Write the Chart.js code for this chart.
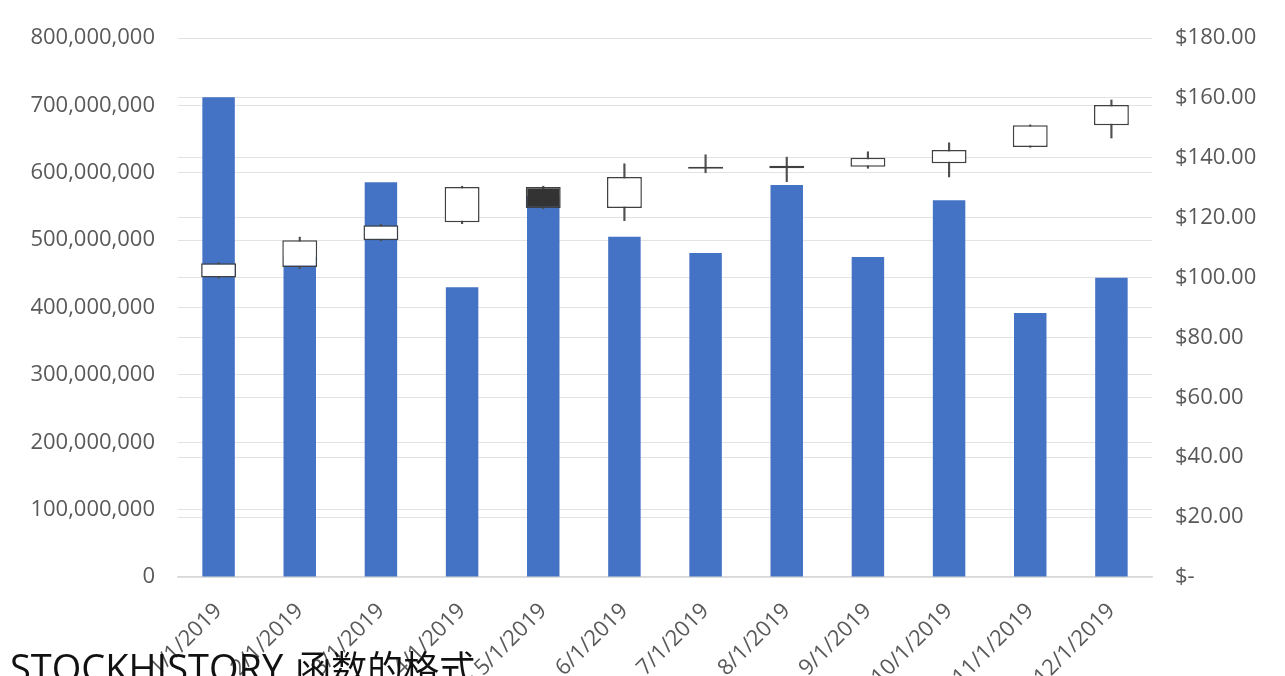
<!DOCTYPE html>
<html>
<head>
<meta charset="utf-8">
<script src="https://cdn.jsdelivr.net/npm/chart.js@4.4.1/dist/chart.umd.min.js"></script>
<style>
  html, body { margin: 0; padding: 0; background: #fff; overflow: hidden; }
  #wrap { position: absolute; left: 0; top: 0; width: 1285px; height: 760px; }
  #caption {
    position: absolute; left: 10px; top: 647px; z-index: 2;
    line-height: 38px; color: #111; white-space: nowrap;
  }
  #caption .lat { font-family: "Open Sans", sans-serif; font-size: 38px; }
  #caption .cjk { font-family: "Noto Sans CJK SC", sans-serif; font-size: 36px; margin-left: 12px; }
</style>
</head>
<body>
<div id="wrap"><canvas id="myChart"></canvas></div>
<div id="caption"><span class="lat">STOCKHISTORY</span><span class="cjk">函数的格式</span></div>
<script>
// monthly data
var months = ["1/1/2019", "2/1/2019", "3/1/2019", "4/1/2019", "5/1/2019", "6/1/2019",
  "7/1/2019", "8/1/2019", "9/1/2019", "10/1/2019", "11/1/2019", "12/1/2019"];
var volume = [712e6, 475e6, 586e6, 430e6, 565e6, 505e6, 481e6, 582e6, 475e6, 559e6, 392e6, 444e6];
var openPrice = [100, 103.5, 112.5, 118.5, 130.2, 123.2, 136.3, 136.5, 137, 138.2, 143.6, 150.9];
var closePrice = [104.8, 112.5, 117.5, 130.2, 123.2, 133.6, 137, 137.3, 140, 142.6, 150.9, 157.6];
var highPrice = [105, 113.5, 117.8, 130.5, 130.5, 138, 141, 140.2, 142, 145, 151, 159.3];
var lowPrice = [99.8, 103, 112.3, 118, 123, 119, 135, 132, 136.5, 133.6, 143.5, 146.6];

var leftTicks = [0, 100e6, 200e6, 300e6, 400e6, 500e6, 600e6, 700e6, 800e6];
var rightTicks = [0, 20, 40, 60, 80, 100, 120, 140, 160, 180];

var axisFont = { family: "'Open Sans', sans-serif", size: 22 };
var axisColor = "#595959";
var gridColor = "#e3e3e3";

var boxes = [];
var wicks = [];
var boxFill = [];
for (var i = 0; i < months.length; i++) {
  boxes = [...boxes, [openPrice[i], closePrice[i]]];
  wicks = [...wicks, [lowPrice[i], highPrice[i]]];
  boxFill = [...boxFill, closePrice[i] >= openPrice[i] ? "#ffffff" : "#333333"];
}

new Chart("myChart", {
  type: "bar",
  data: {
    labels: months,
    datasets: [
      {
        data: volume,
        yAxisID: "y",
        backgroundColor: "#4472C4",
        barPercentage: 0.4,
        categoryPercentage: 1,
        grouped: false,
        order: 3,
      },
      {
        data: wicks,
        yAxisID: "y2",
        backgroundColor: "#505050",
        barThickness: 1.5,
        grouped: false,
        order: 2,
      },
      {
        data: boxes,
        yAxisID: "y2",
        backgroundColor: boxFill,
        borderColor: "#404040",
        borderWidth: 1.5,
        borderSkipped: false,
        barPercentage: 0.43,
        categoryPercentage: 1,
        grouped: false,
        order: 1,
      },
    ],
  },
  options: {
    responsive: true,
    maintainAspectRatio: false,
    animation: false,
    layout: { padding: { top: 38, left: 0, right: 0, bottom: 0 } },
    plugins: {
      legend: { display: false },
      tooltip: { enabled: false },
    },
    scales: {
      x: {
        grid: { display: false },
        border: { color: "#d9d9d9", width: 1.5 },
        ticks: {
          color: axisColor,
          font: axisFont,
          minRotation: 45,
          maxRotation: 45,
          padding: 13,
        },
        afterFit: function (s) { s.height = 760 - 577; },
      },
      y: {
        position: "left",
        min: 0,
        max: 800e6,
        border: { display: false },
        grid: { color: gridColor, drawTicks: false },
        afterBuildTicks: function (s) { s.ticks = leftTicks.map(function (v) { return { value: v }; }); },
        ticks: {
          color: axisColor,
          font: axisFont,
          padding: 23,
          callback: function (v) { return v.toLocaleString("en-US"); },
        },
        afterFit: function (s) { s.width = 178; },
      },
      y2: {
        position: "right",
        min: 0,
        max: 180,
        border: { display: false },
        grid: { color: gridColor, drawTicks: false },
        afterBuildTicks: function (s) { s.ticks = rightTicks.map(function (v) { return { value: v }; }); },
        ticks: {
          color: axisColor,
          font: axisFont,
          padding: 23,
          callback: function (v) { return v === 0 ? "$-" : "$" + v.toFixed(2); },
        },
        afterFit: function (s) { s.width = 1285 - 1152; },
      },
    },
  },
});
</script>
</body>
</html>
